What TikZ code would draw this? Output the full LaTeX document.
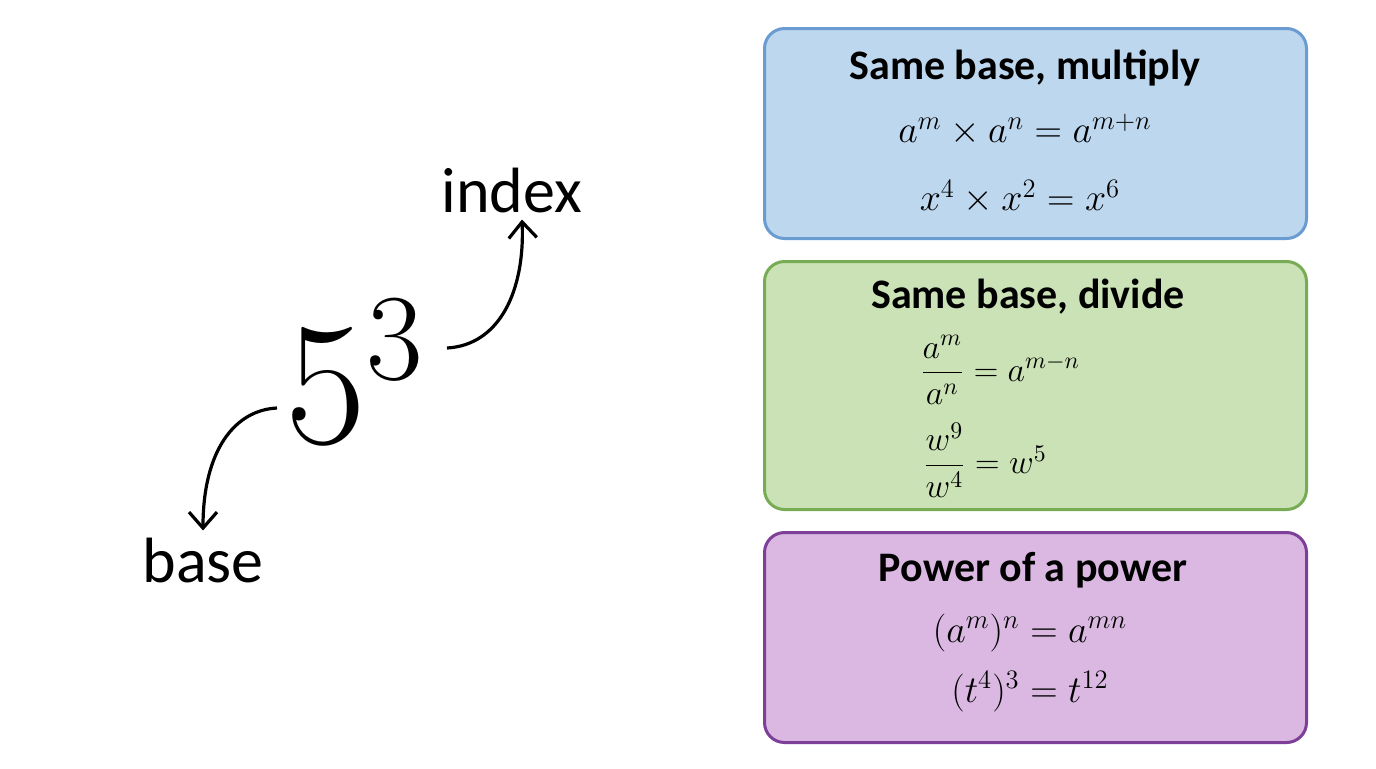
\documentclass[tikz,border=0pt]{standalone}
\usepackage{fix-cm}
\usepackage{amsmath}
\usepackage{fontspec}
\setmainfont{Carlito}
\usetikzlibrary{arrows.meta}
\definecolor{bfill}{HTML}{BDD7EE}\definecolor{bdraw}{HTML}{6A9BD1}
\definecolor{gfill}{HTML}{CBE2B7}\definecolor{gdraw}{HTML}{77AC55}
\definecolor{pfill}{HTML}{DAB8E2}\definecolor{pdraw}{HTML}{7E3F98}
\begin{document}
\begin{tikzpicture}[x=0.5pt,y=-0.5pt,
 box/.style={draw=#1, line width=1.5pt, rounded corners=10pt},
 ttl/.style={font=\fontsize{21}{24}\selectfont\bfseries},
 mth/.style={font=\fontsize{19}{22}\selectfont},
 lbl/.style={font=\fontsize{32}{34}\selectfont},
 arr/.style={-{Straight Barb[length=8pt,width=14pt,line width=1.6pt]}, line width=1.6pt}]
\useasboundingbox (0,0) rectangle (1376,768);
\fill[white] (0,0) rectangle (1376,768);
\node[box=bdraw, fill=bfill, minimum width=271pt, minimum height=105pt, anchor=north west, inner sep=0pt] (b1) at (763,27) {};
\node[box=gdraw, fill=gfill, minimum width=271pt, minimum height=124pt, anchor=north west, inner sep=0pt] (b2) at (763,260) {};
\node[box=pdraw, fill=pfill, minimum width=271pt, minimum height=105pt, anchor=north west, inner sep=0pt] (b3) at (763,531) {};
\node[ttl] (t1) at (1025,68) {Same base, multiply};
\node[mth] (m1) at (1025,130) {$a^m\times a^n=a^{m+n}$};
\node[mth] (e1) at (1020,197) {$x^4\times x^2=x^6$};
\node[ttl] (t2) at (1028,297) {Same base, divide};
\node[mth,font=\fontsize{17}{20}\selectfont,inner sep=0pt] (m2) at (1000,370) {$\dfrac{a^m}{a^n}=a^{m-n}$};
\node[mth,font=\fontsize{17}{20}\selectfont,inner sep=0pt] (e2) at (985,460) {$\dfrac{w^9}{w^4}=w^5$};
\node[ttl] (t3) at (1033,570) {Power of a power};
\node[mth] (m3) at (1030,633) {$(a^m)^n=a^{mn}$};
\node[mth] (e3) at (1030,692) {$(t^4)^3=t^{12}$};
\node[font=\fontsize{88}{96}\selectfont] (five) at (355,372) {$5^3$};
\node[lbl] (idx) at (512,190) {index};
\node[lbl] (base) at (203,560) {base};
\coordinate (s1) at (447,348);
\coordinate (s2) at (277,408);
\draw[arr] (s1) .. controls (500,345) and (525,290) .. (idx.south -| 522,0);
\draw[arr] (s2) .. controls (235,410) and (203,450) .. (base.north);
\end{tikzpicture}
\end{document}
